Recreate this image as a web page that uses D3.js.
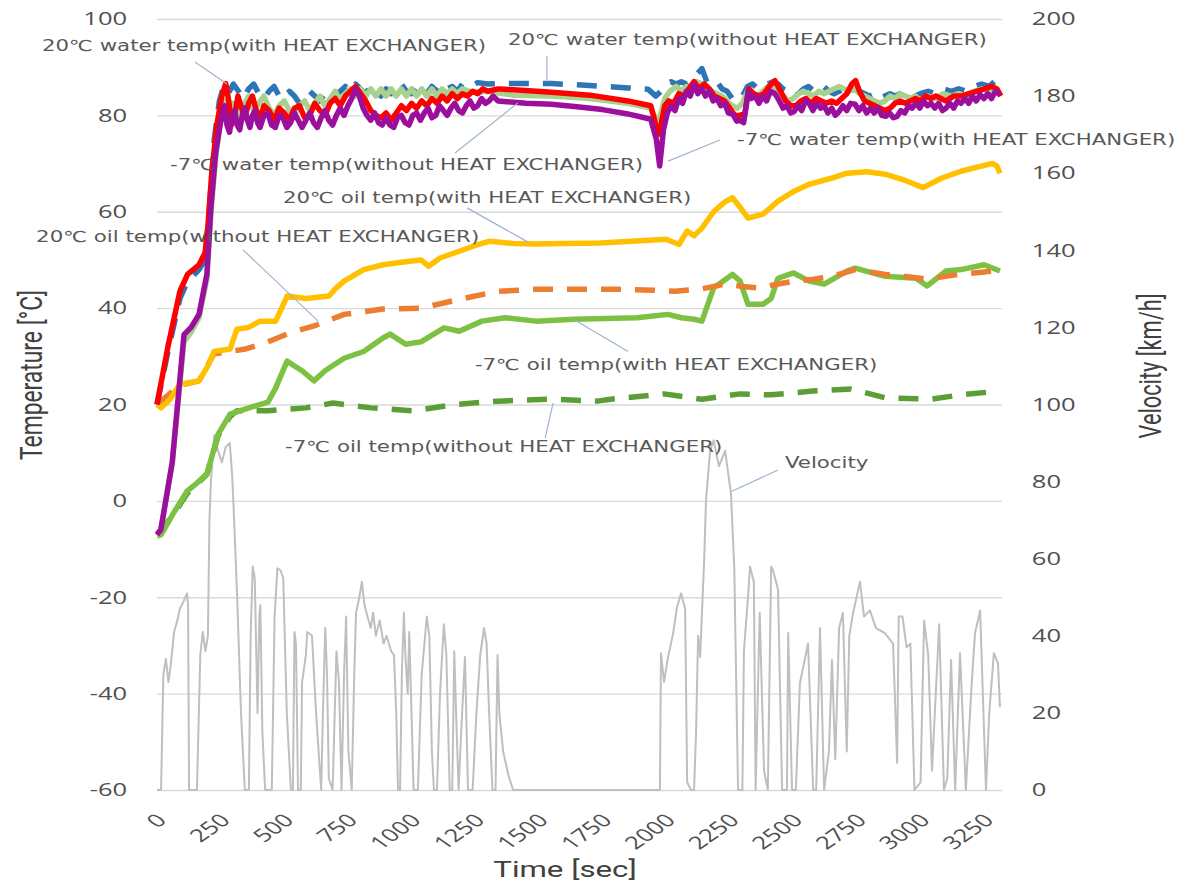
<!DOCTYPE html>
<html lang="en">
<head>
<meta charset="UTF-8">
<title>Coolant and oil temperature with velocity</title>
<script src="https://cdn.jsdelivr.net/npm/d3@7"></script>
<style>
  body { margin: 0; background: #fff; }
  svg { display: block; }
  .tick text { font-family: "Open Sans", sans-serif; font-size: 18px; fill: #505050; }
  .axis-title { font-family: "Liberation Sans Narrow", "Roboto", sans-serif; font-size: 22px; fill: #404040; }
  .callout { font-family: "DejaVu Sans", Verdana, sans-serif; font-size: 15px; fill: #595959; }
</style>
</head>
<body>
<script>
// Tick values
const timeTicks = [0, 250, 500, 750, 1000, 1250, 1500, 1750, 2000, 2250, 2500, 2750, 3000, 3250];
const tempTicks = [-60, -40, -20, 0, 20, 40, 60, 80, 100];
const speedTicks = [0, 20, 40, 60, 80, 100, 120, 140, 160, 180, 200];

// [time sec, temperature degC]
const water20With = [[0,20],[43,32],[90,43.5],[120,47],[165,49],[189,51.5],[200,57],[215,68],[235,78],[255,84],[270,86.6],[282,83],[292,78],[305,80],[318,84],[330,82],[345,79.5],[360,82.5],[375,84],[390,81],[405,79.5],[420,82],[440,81],[460,79],[480,81.5],[500,80.5],[520,79],[540,81.5],[560,82],[580,79.5],[600,80],[620,82.5],[640,81],[660,80],[680,82.5],[700,83.5],[720,82],[740,84],[760,85],[780,86],[800,84.5],[820,83],[840,81],[860,80],[880,79.5],[900,80.5],[920,79],[940,80.5],[960,82],[980,81],[1000,82.5],[1020,81.5],[1040,83],[1060,82],[1080,83.5],[1100,82.5],[1120,84],[1140,83],[1160,84.5],[1180,83.5],[1200,84.5],[1220,84],[1240,85],[1260,84.5],[1280,85.5],[1300,85],[1340,85.5],[1400,85.3],[1550,84.8],[1700,84.2],[1850,83],[1940,82],[1955,79],[1968,76],[1980,78],[1995,82],[2010,83],[2030,82.5],[2050,84.5],[2070,84],[2090,85.5],[2110,87],[2130,85.5],[2150,86.5],[2170,85.5],[2190,84],[2210,83.5],[2230,83],[2250,81.5],[2270,80],[2290,80],[2310,80.5],[2325,85.5],[2345,84.5],[2365,84],[2385,84.5],[2405,86],[2428,87.2],[2450,85],[2470,83],[2490,82],[2510,82],[2530,83],[2550,83.5],[2570,82.5],[2590,83.5],[2610,83],[2630,82.5],[2650,83],[2670,82.5],[2690,83.5],[2710,84.5],[2730,86.5],[2745,87.2],[2760,85],[2780,83],[2800,82.5],[2820,82],[2840,81.5],[2860,81],[2880,81.5],[2900,82.5],[2920,83],[2940,82.5],[2960,83],[2980,83.5],[3000,83],[3020,84],[3040,83.5],[3060,84],[3080,83.5],[3100,83],[3130,84],[3160,84],[3190,84.5],[3220,85],[3250,85.5],[3280,86],[3300,85.5],[3315,84]];
const water20Without = [[0,20],[43,31],[90,42],[120,45.5],[165,48],[189,50],[205,60],[225,75],[245,83],[262,86],[280,84.5],[300,86.5],[320,85],[340,83.5],[360,85.5],[380,86.5],[400,84.5],[420,83.5],[440,85],[460,86],[480,84],[500,83.5],[520,85],[540,84],[560,82.5],[580,84],[600,85],[620,84],[640,83],[660,84.5],[680,85.5],[700,84],[720,85],[740,86],[760,85],[780,86.5],[800,85.5],[820,84.5],[840,86],[860,85],[880,84],[900,85.5],[920,84.5],[940,85.5],[960,86.5],[980,85],[1000,84.5],[1020,86],[1040,85],[1060,84.5],[1080,86],[1100,85],[1120,86.5],[1140,85.5],[1160,86],[1180,85],[1200,86.5],[1230,86],[1260,86.8],[1300,86.5],[1340,86.6],[1400,86.6],[1550,86.6],[1700,86.2],[1850,85.7],[1930,85.4],[1960,84],[1980,85],[2000,86.5],[2020,87],[2040,86.5],[2060,87],[2080,86.5],[2100,87.5],[2120,88.5],[2141,89.7],[2160,87],[2180,86.5],[2200,87],[2220,85.5],[2240,85],[2260,83.5],[2280,83],[2300,84],[2320,86],[2340,86.5],[2360,85.5],[2380,86],[2400,86.5],[2420,87],[2440,86.5],[2460,85.5],[2480,85],[2500,84],[2520,84.5],[2540,85.5],[2560,86],[2580,85],[2600,85.5],[2620,86],[2640,85],[2660,84.5],[2680,85],[2700,85.5],[2720,85],[2740,85.5],[2760,85],[2780,84.5],[2800,84],[2820,84.5],[2840,83.5],[2860,84],[2880,84.5],[2900,84],[2920,84.5],[2940,85],[2960,84.5],[2980,84],[3000,84.5],[3030,85],[3060,84.5],[3090,85.5],[3120,85],[3150,85.5],[3180,85],[3210,86],[3240,86.5],[3270,86],[3290,87],[3315,86]];
const waterM7Without = [[0,-7],[15,-6],[60,8],[106,33],[134,35],[165,38],[196,46],[212,60],[232,72],[252,80],[268,83],[285,80],[300,82.5],[320,80],[340,82],[360,84],[380,81],[400,82.5],[420,84],[440,81.5],[460,80],[480,82],[500,83],[520,81],[540,80],[560,82],[580,83],[600,81],[620,82.5],[640,84],[660,82],[680,83.5],[700,85],[720,83],[740,84.5],[760,85.5],[780,84],[800,85.5],[820,84],[840,85.5],[860,84],[880,85.5],[900,84],[920,85.5],[940,84],[960,85.5],[980,84],[1000,85.5],[1020,84],[1040,85.5],[1060,84],[1080,85.5],[1100,84],[1120,85.5],[1140,84.5],[1160,85.5],[1180,84.5],[1200,85.5],[1240,84.8],[1300,85],[1400,84.2],[1550,84],[1700,83.5],[1850,82.5],[1940,81.5],[1962,79],[1978,80],[1995,83.5],[2015,85],[2040,86],[2060,85],[2080,86],[2100,85.5],[2120,87],[2140,86.5],[2160,86],[2180,85],[2200,84.5],[2220,84],[2240,83],[2260,82],[2280,81.5],[2300,82.5],[2320,85],[2340,84.5],[2360,84],[2380,85],[2400,86],[2420,85.5],[2440,85],[2460,84],[2480,83],[2500,83.5],[2520,84.5],[2540,85],[2560,84.5],[2580,84],[2600,85],[2620,84.5],[2640,85],[2660,85.5],[2680,86],[2700,85.5],[2720,85],[2740,85.5],[2760,84.5],[2780,84],[2800,83.5],[2820,83],[2840,82.5],[2860,83],[2880,84],[2900,83.5],[2920,84.5],[2940,84],[2960,83.5],[2980,84],[3000,83],[3030,84],[3060,83.5],[3090,84.5],[3120,84],[3150,84.5],[3180,84],[3210,85],[3240,85.5],[3270,85],[3300,85],[3315,84.5]];
const waterM7With = [[0,-7],[15,-6],[60,8],[106,34.5],[134,36],[165,38.7],[196,47],[212,61],[230,72],[245,77],[255,80],[265,82],[275,78],[285,76.5],[295,80],[305,81],[315,78],[325,77],[335,80],[345,81.5],[355,79],[365,77.5],[375,80],[385,81],[395,78.5],[405,77.5],[420,80],[435,80.5],[450,78],[465,77.5],[480,80],[495,79.5],[510,77.5],[525,78.5],[540,80.5],[555,79],[570,77.5],[585,79],[600,80.5],[615,78.5],[630,77.5],[645,79.5],[660,81],[675,79],[690,78],[705,80],[720,81.5],[735,80],[750,82],[765,83.5],[780,85.5],[795,84],[810,81.5],[825,80],[840,79],[855,80.5],[870,78.5],[885,78],[900,79.5],[915,78],[930,77.5],[945,79.5],[960,80],[975,78.5],[990,78],[1005,80],[1020,80.5],[1035,79],[1050,80.5],[1065,81.5],[1080,79.5],[1095,80],[1110,82],[1125,81],[1140,80],[1155,81.5],[1170,82.5],[1185,81],[1200,80.5],[1215,82],[1230,83],[1245,81.5],[1260,82],[1275,83.5],[1290,82.5],[1305,83],[1320,84],[1340,83],[1450,82.5],[1550,82.3],[1650,81.8],[1750,81.2],[1850,80.3],[1940,79.2],[1962,75],[1975,69.5],[1990,77],[2005,80.5],[2020,82],[2035,81],[2050,83.5],[2065,82.5],[2080,85],[2095,84],[2110,86.4],[2125,84.5],[2141,85.6],[2155,84],[2170,85],[2185,83],[2200,83.5],[2215,82],[2230,82.5],[2245,80.5],[2263,80.2],[2278,78.8],[2291,79],[2305,78.5],[2315,82],[2322,85],[2335,83.5],[2350,84],[2365,82.5],[2380,84],[2395,83],[2410,85],[2428,84.5],[2445,83],[2460,81.5],[2475,82],[2490,80.5],[2503,80.8],[2518,82],[2533,81],[2548,83],[2562,82.5],[2577,81],[2592,82.5],[2607,81.5],[2621,82],[2636,80.5],[2651,81.5],[2665,80],[2680,80.8],[2695,82],[2710,81],[2725,82.5],[2743,82.3],[2758,81],[2773,82],[2788,80.5],[2803,81.5],[2818,80.5],[2833,81.5],[2848,80],[2863,79.8],[2878,80.5],[2893,79.5],[2908,79.8],[2923,81],[2938,80.5],[2953,82],[2967,81.5],[2982,82.5],[2997,81.5],[3012,83],[3027,82],[3041,82.5],[3056,81.5],[3071,82.5],[3086,81],[3100,81.5],[3115,82.5],[3130,81.5],[3145,83],[3159,82.5],[3174,83.5],[3189,82.5],[3204,84],[3219,83],[3234,84.3],[3249,83.5],[3264,84.5],[3279,83.5],[3294,85],[3312,84.3]];
const oil20With = [[0,20],[16,19.3],[50,21],[90,24.2],[165,24.9],[200,28],[224,31],[287,31.5],[314,35.6],[360,36],[405,37.3],[466,37.3],[490,40],[511,42.5],[585,42],[676,42.5],[700,44],[735,45.6],[812,48],[888,49],[960,49.5],[1037,50],[1067,48.7],[1112,50.4],[1187,51.8],[1250,53],[1308,53.9],[1400,53.4],[1489,53.3],[1600,53.4],[1741,53.5],[1900,54],[2000,54.3],[2051,53.2],[2083,56],[2110,55],[2141,56.6],[2187,60],[2230,62],[2261,62.9],[2290,61],[2322,58.7],[2381,59.5],[2440,62.2],[2501,64.2],[2562,65.7],[2652,67],[2711,68],[2790,68.3],[2861,67.8],[2940,66.5],[3010,65],[3084,67],[3159,68.4],[3234,69.4],[3281,70],[3300,69.5],[3312,68]];
const oil20Without = [[0,20],[90,24],[165,24.9],[224,30.5],[287,31],[346,31.5],[436,33],[530,35],[617,36.3],[735,38.7],[888,39.8],[1037,40],[1187,41.8],[1338,43.5],[1489,43.9],[1662,43.9],[1811,43.9],[1950,43.7],[2035,43.5],[2140,44],[2232,45],[2300,44.5],[2365,44.2],[2440,45],[2503,45.6],[2580,46],[2652,46.6],[2743,48],[2861,47],[2950,46.5],[3026,46],[3150,47],[3250,47.5],[3312,48]];
const oilM7With = [[0,-7.3],[16,-7],[63,-2.7],[118,2],[157,3.7],[196,5.6],[240,13.8],[287,18],[361,19.3],[436,20.5],[466,23.4],[511,29],[540,28],[570,27],[617,24.9],[660,27],[735,29.6],[812,31],[888,33.8],[916,34.6],[977,32.5],[1037,33],[1128,35.9],[1187,35.2],[1277,37.3],[1367,38],[1489,37.3],[1638,37.7],[1886,38],[2008,38.7],[2060,38],[2110,37.7],[2141,37.3],[2187,44.2],[2261,47],[2291,45.6],[2322,40.8],[2381,40.8],[2413,42],[2440,46.2],[2501,47.3],[2562,45.6],[2621,45],[2711,47.7],[2743,48.3],[2861,46.6],[2982,46.2],[3026,44.6],[3100,47.7],[3159,48],[3250,49],[3312,47.7]];
const oilM7Without = [[0,-7],[63,-3],[118,1.5],[157,3.5],[196,5.5],[240,13.5],[287,17.5],[314,18.7],[436,18.7],[585,19.3],[692,20.3],[841,19.3],[1006,18.7],[1171,20],[1338,20.7],[1548,21.1],[1729,20.7],[1782,21.1],[1992,22.2],[2141,21.1],[2291,22.2],[2413,22],[2576,22.8],[2727,23.2],[2861,21.4],[3041,21.1],[3159,22],[3312,22.8]];

// [time sec, km/h]
const velocity = [[0,0],[16,0],[25,30],[35,34],[45,28],[55,33],[67,41],[80,44],[90,47],[105,49],[118,51],[122,48],[126,0],[157,0],[170,35],[180,41],[190,36],[200,40],[206,70],[212,80],[225,92],[240,88],[255,85],[270,89],[286,90],[295,82],[300,75],[315,50],[330,20],[345,0],[361,0],[368,40],[376,58],[384,55],[395,20],[402,45],[406,48],[414,15],[425,0],[451,0],[462,45],[473,57.5],[485,57],[496,55],[510,20],[526,0],[534,0],[540,41],[546,38],[554,0],[565,0],[570,28],[585,35],[590,41],[609,40],[625,20],[645,0],[652,20],[661,42],[668,30],[675,3],[690,0],[705,36],[715,28],[725,0],[735,30],[743,45],[752,10],[765,0],[775,30],[782,46],[795,50],[805,54],[815,48],[827,45],[840,42],[849,46],[860,40],[875,44],[890,38],[902,40],[920,36],[931,35],[940,20],[947,0],[955,0],[962,30],[970,46],[976,35],[985,25],[991,41],[1000,20],[1008,0],[1025,0],[1040,30],[1060,45],[1070,40],[1080,10],[1088,0],[1100,0],[1112,25],[1127,43],[1137,35],[1150,0],[1160,0],[1168,36],[1175,20],[1185,0],[1195,15],[1210,34.5],[1222,0],[1240,0],[1255,20],[1270,35],[1285,42],[1295,38],[1305,20],[1318,0],[1330,0],[1338,35],[1345,20],[1360,10],[1380,4],[1399,0],[1970,0],[1976,0],[1980,35.5],[1992,28],[2008,34.5],[2028,40.7],[2043,47.4],[2059,51],[2075,47],[2083,2],[2098,0],[2110,0],[2118,15],[2126,40],[2134,34.5],[2150,60],[2157,75],[2173,88],[2187,90.7],[2208,84],[2232,88],[2255,77],[2268,58],[2283,0],[2300,0],[2306,36],[2322,50],[2330,58],[2345,54],[2352,0],[2368,46],[2385,5],[2400,0],[2413,58],[2420,57],[2440,52],[2456,0],[2475,0],[2480,40.7],[2495,0],[2510,0],[2526,27.7],[2558,38],[2578,0],[2590,0],[2605,42],[2621,0],[2640,10],[2652,33.7],[2665,8],[2680,42],[2695,46],[2710,10],[2720,40],[2735,46],[2762,54],[2778,45],[2801,46.6],[2825,42],[2860,40.7],[2892,38],[2908,7],[2914,45],[2929,45],[2945,37],[2960,38],[2976,0],[3000,2],[3014,44],[3030,35],[3045,5],[3073,43],[3092,0],[3105,3],[3120,33.7],[3136,0],[3155,35.5],[3178,0],[3200,26.7],[3214,40.7],[3234,46.6],[3257,0],[3270,20],[3288,35.5],[3304,33],[3312,21.5]];

// Data labels: text, label anchor, leader start and end, all in [time, temperature]
const callouts = [
  ["20\u2103 water temp(with HEAT EXCHANGER)", [-452, 94.4], [149, 91.1], [275, 86.5]],
  ["20\u2103 water temp(without HEAT EXCHANGER)", [1379, 95.6], [1532, 92.3], [1532, 87.0]],
  ["-7\u2103 water temp(without HEAT EXCHANGER)", [51, 69.7], [1171, 72.2], [1418, 82.6]],
  ["-7\u2103 water temp(with HEAT EXCHANGER)", [2279, 74.9], [2212, 74.9], [2008, 70.5]],
  ["20\u2103 oil temp(with HEAT EXCHANGER)", [495, 62.9], [1218, 60.8], [1458, 53.7]],
  ["20\u2103 oil temp(without HEAT EXCHANGER)", [-475, 54.8], [338, 52.1], [633, 37.3]],
  ["-7\u2103 oil temp(with HEAT EXCHANGER)", [1249, 28.2], [1851, 31.0], [1643, 37.5]],
  ["-7\u2103 oil temp(without HEAT EXCHANGER)", [503, 11.2], [1525, 13.0], [1556, 20.3]],
  ["Velocity", [2467, 7.9], [2440, 6.4], [2259, 2.0]]
];

const width = 1178;
const height = 884;
const margin = { top: 19, right: 176, bottom: 94, left: 157 };
const SX = 1.42; // the source picture is stretched sideways, text follows it

const x = d3.scaleLinear().domain([0, 3320]).range([margin.left, width - margin.right]);
const yT = d3.scaleLinear().domain([-60, 100]).range([height - margin.bottom, margin.top]);
const yV = d3.scaleLinear().domain([0, 200]).range([height - margin.bottom, margin.top]);

const svg = d3.select("body").append("svg")
    .attr("width", width)
    .attr("height", height);

// Left axis with gridlines
const leftAxis = svg.append("g")
    .attr("transform", `translate(${margin.left},0)`)
    .call(d3.axisLeft(yT).tickValues(tempTicks).tickFormat(d => String(d))
        .tickSize(-(width - margin.left - margin.right)).tickPadding(21));
leftAxis.select(".domain").remove();
leftAxis.selectAll(".tick line").attr("stroke", "#d9d9d9").attr("stroke-width", 1.3);
leftAxis.selectAll(".tick text").attr("transform", `scale(${SX},1)`);

// Right axis (velocity)
const rightAxis = svg.append("g")
    .attr("transform", `translate(${width - margin.right},0)`)
    .call(d3.axisRight(yV).tickValues(speedTicks).tickFormat(d => String(d)).tickSize(0).tickPadding(21));
rightAxis.select(".domain").remove();
rightAxis.selectAll(".tick text").attr("transform", `scale(${SX},1)`);

// Bottom axis, rotated labels
const bottomAxis = svg.append("g")
    .attr("transform", `translate(0,${height - margin.bottom})`)
    .call(d3.axisBottom(x).tickValues(timeTicks).tickFormat(d => String(d)).tickSize(0));
bottomAxis.select(".domain").remove();
bottomAxis.selectAll(".tick text")
    .attr("x", 0).attr("y", 0).attr("dy", "0.35em")
    .attr("text-anchor", "end")
    .attr("transform", `translate(4,27) scale(${SX},1) rotate(-45)`);

// Velocity trace first so temperatures sit on top
const lineV = d3.line().x(d => x(d[0])).y(d => yV(d[1]));
svg.append("path")
    .datum(velocity)
    .attr("fill", "none")
    .attr("stroke", "#bfbfbf")
    .attr("stroke-width", 2)
    .attr("stroke-linejoin", "round")
    .attr("d", lineV);

const lineT = d3.line().x(d => x(d[0])).y(d => yT(d[1]));
const series = [
    { data: oilM7Without, color: "#5b9e35", dash: "20,14" },
    { data: oilM7With, color: "#7cc142", dash: null },
    { data: oil20Without, color: "#ed7d31", dash: "20,14" },
    { data: oil20With, color: "#ffc000", dash: null },
    { data: water20Without, color: "#2e75b6", dash: "20,14" },
    { data: waterM7Without, color: "#a9d18e", dash: null },
    { data: water20With, color: "#ff0000", dash: null },
    { data: waterM7With, color: "#9c0f9c", dash: null }
];
for (const s of series) {
    svg.append("path")
        .datum(s.data)
        .attr("fill", "none")
        .attr("stroke", s.color)
        .attr("stroke-width", 5.5)
        .attr("stroke-linejoin", "round")
        .attr("stroke-dasharray", s.dash)
        .attr("d", lineT);
}

// Callouts with leader lines
for (const [text, at, from, to] of callouts) {
    svg.append("line")
        .attr("x1", x(from[0])).attr("y1", yT(from[1]))
        .attr("x2", x(to[0])).attr("y2", yT(to[1]))
        .attr("stroke", "#9fb4cc")
        .attr("stroke-width", 1.2);
    svg.append("text")
        .attr("class", "callout")
        .attr("transform", `translate(${x(at[0])},${yT(at[1])}) scale(${SX},1)`)
        .attr("dy", "0.35em")
        .text(text);
}

// Axis titles
svg.append("text")
    .attr("class", "axis-title")
    .attr("text-anchor", "middle")
    .attr("transform", `translate(31,375) scale(${SX},1) rotate(-90)`)
    .attr("dy", "0.35em")
    .attr("textLength", 170)
    .attr("lengthAdjust", "spacingAndGlyphs")
    .text("Temperature [\u00b0C]");

svg.append("text")
    .attr("class", "axis-title")
    .attr("text-anchor", "middle")
    .attr("transform", `translate(1150,366) scale(${SX},1) rotate(-90)`)
    .attr("dy", "0.35em")
    .attr("textLength", 145)
    .attr("lengthAdjust", "spacingAndGlyphs")
    .text("Velocity [km/h]");

svg.append("text")
    .attr("class", "axis-title")
    .attr("text-anchor", "middle")
    .attr("transform", `translate(565,869) scale(${SX},1)`)
    .attr("dy", "0.35em")
    .text("Time [sec]");
</script>
</body>
</html>
